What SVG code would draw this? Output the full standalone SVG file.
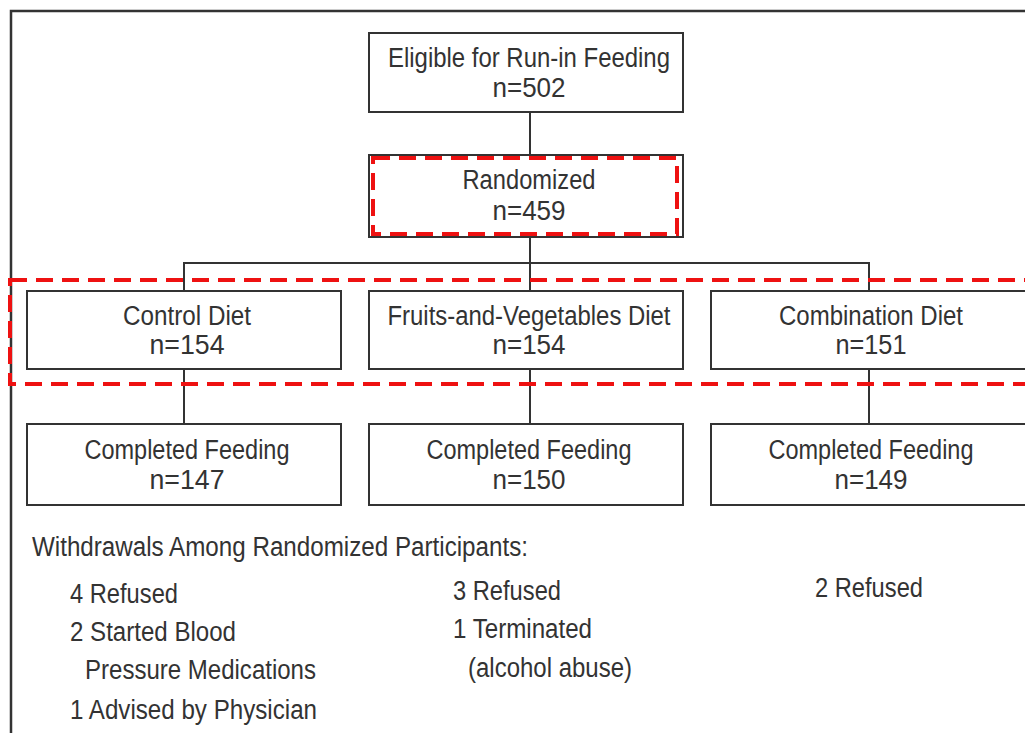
<svg xmlns="http://www.w3.org/2000/svg" width="1025" height="733" viewBox="0 0 1025 733">
  <style>
    .box { fill: #ffffff; stroke: #333333; stroke-width: 2; }
    .wire { fill: none; stroke: #333333; stroke-width: 2; }
    .frame { fill: none; stroke: #333333; stroke-width: 2.5; }
    .hl { fill: none; stroke: #ee1111; stroke-width: 4; stroke-dasharray: 17 9; }
    text { font-family: "Liberation Sans", Arial, sans-serif; font-size: 27px; fill: #333333; }
    .c { text-anchor: middle; }
  </style>
  <rect width="1025" height="733" fill="#ffffff"/>
  <!-- page frame -->
  <polyline class="frame" points="1025,11 11,11 11,733"/>

  <!-- connectors -->
  <g id="connectors">
    <line class="wire" x1="530" y1="112" x2="530" y2="155"/>
    <line class="wire" x1="530" y1="237" x2="530" y2="291"/>
    <polyline class="wire" points="184,291 184,263 869,263 869,291"/>
    <line class="wire" x1="184" y1="369" x2="184" y2="424"/>
    <line class="wire" x1="530" y1="369" x2="530" y2="424"/>
    <line class="wire" x1="869" y1="369" x2="869" y2="424"/>
  </g>

  <g id="eligible">
    <rect class="box" x="369" y="33" width="314" height="79"/>
    <text class="c" x="529" y="67" textLength="282" lengthAdjust="spacingAndGlyphs">Eligible for Run-in Feeding</text>
    <text class="c" x="529" y="97" textLength="73" lengthAdjust="spacingAndGlyphs">n=502</text>
  </g>

  <g id="randomized">
    <rect class="box" x="369" y="155" width="314" height="82"/>
    <text class="c" x="529" y="189" textLength="133" lengthAdjust="spacingAndGlyphs">Randomized</text>
    <text class="c" x="529" y="220" textLength="73" lengthAdjust="spacingAndGlyphs">n=459</text>
  </g>

  <g id="control">
    <rect class="box" x="27" y="291" width="314" height="78"/>
    <text class="c" x="187" y="325" textLength="128" lengthAdjust="spacingAndGlyphs">Control Diet</text>
    <text class="c" x="187" y="354" textLength="75" lengthAdjust="spacingAndGlyphs">n=154</text>
  </g>

  <g id="fruits-vegetables">
    <rect class="box" x="369" y="291" width="314" height="78"/>
    <text class="c" x="529" y="325" textLength="283" lengthAdjust="spacingAndGlyphs">Fruits-and-Vegetables Diet</text>
    <text class="c" x="529" y="354" textLength="73" lengthAdjust="spacingAndGlyphs">n=154</text>
  </g>

  <g id="combination">
    <rect class="box" x="711" y="291" width="330" height="78"/>
    <text class="c" x="871" y="325" textLength="184" lengthAdjust="spacingAndGlyphs">Combination Diet</text>
    <text class="c" x="871" y="354" textLength="71" lengthAdjust="spacingAndGlyphs">n=151</text>
  </g>

  <g id="completed-control">
    <rect class="box" x="27" y="424" width="314" height="81"/>
    <text class="c" x="187" y="459" textLength="205" lengthAdjust="spacingAndGlyphs">Completed Feeding</text>
    <text class="c" x="187" y="489" textLength="75" lengthAdjust="spacingAndGlyphs">n=147</text>
  </g>

  <g id="completed-fruits-vegetables">
    <rect class="box" x="369" y="424" width="314" height="81"/>
    <text class="c" x="529" y="459" textLength="205" lengthAdjust="spacingAndGlyphs">Completed Feeding</text>
    <text class="c" x="529" y="489" textLength="73" lengthAdjust="spacingAndGlyphs">n=150</text>
  </g>

  <g id="completed-combination">
    <rect class="box" x="711" y="424" width="330" height="81"/>
    <text class="c" x="871" y="459" textLength="205" lengthAdjust="spacingAndGlyphs">Completed Feeding</text>
    <text class="c" x="871" y="489" textLength="73" lengthAdjust="spacingAndGlyphs">n=149</text>
  </g>

  <!-- highlight outlines -->
  <rect class="hl" x="373" y="158" width="304" height="76"/>
  <rect class="hl" x="10" y="280" width="1030" height="104"/>

  <g id="withdrawals">
    <text x="32" y="556" textLength="496" lengthAdjust="spacingAndGlyphs">Withdrawals Among Randomized Participants:</text>
    <text x="70" y="603" textLength="108" lengthAdjust="spacingAndGlyphs">4 Refused</text>
    <text x="70" y="641" textLength="166" lengthAdjust="spacingAndGlyphs">2 Started Blood</text>
    <text x="85" y="679" textLength="231" lengthAdjust="spacingAndGlyphs">Pressure Medications</text>
    <text x="70" y="719" textLength="247" lengthAdjust="spacingAndGlyphs">1 Advised by Physician</text>
    <text x="453" y="600" textLength="108" lengthAdjust="spacingAndGlyphs">3 Refused</text>
    <text x="453" y="638" textLength="139" lengthAdjust="spacingAndGlyphs">1 Terminated</text>
    <text x="468" y="677" textLength="164" lengthAdjust="spacingAndGlyphs">(alcohol abuse)</text>
    <text x="815" y="597" textLength="108" lengthAdjust="spacingAndGlyphs">2 Refused</text>
  </g>
</svg>
